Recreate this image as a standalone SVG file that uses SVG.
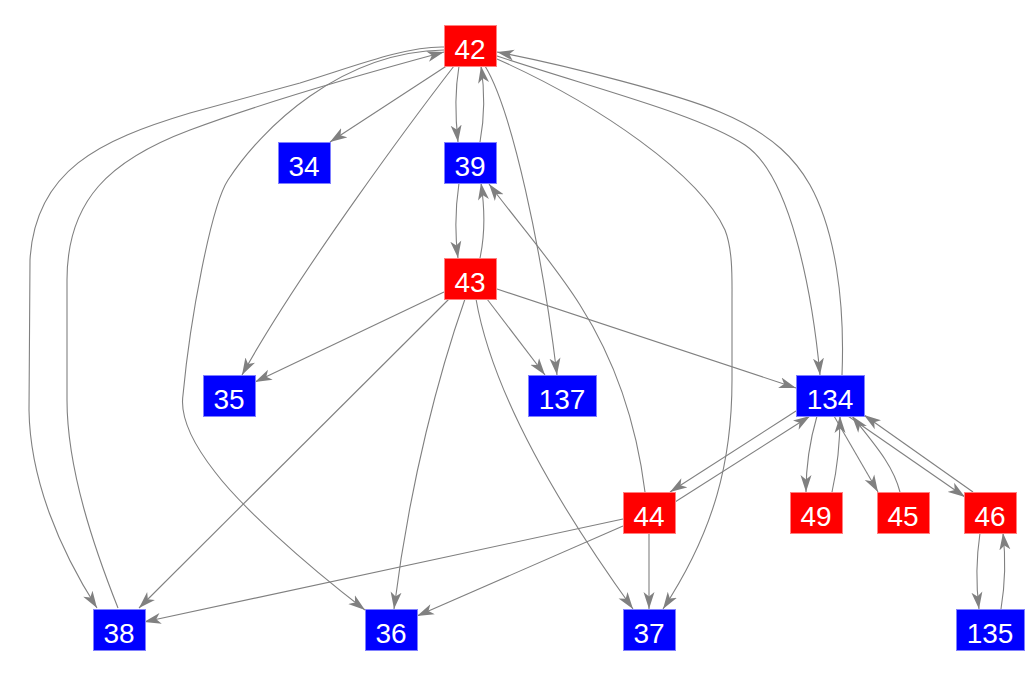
<svg xmlns="http://www.w3.org/2000/svg" width="1033" height="675" viewBox="0 0 1033 675">
<style>
.e{fill:none;stroke:#808080;stroke-width:1.1;marker-end:url(#ah)}
.r{fill:#ff0000;stroke:#ff8080;stroke-width:1}
.b{fill:#0000ff;stroke:#8080ff;stroke-width:1}
.t{fill:#ffffff;font-family:"Liberation Sans",Arial,sans-serif;font-size:28px;text-anchor:middle}
</style>
<defs>
<marker id="ah" viewBox="-17 -6 17 12" refX="0" refY="0" markerWidth="17" markerHeight="12" markerUnits="userSpaceOnUse" orient="auto">
<path d="M0,0 L-17,-5.5 L-12.5,0 L-17,5.5 Z" fill="#808080"/>
</marker>
</defs>
<rect width="1033" height="675" fill="#ffffff"/>
<g id="connectors">
<path class="e" d="M448,65 L330,142"/>
<path class="e" d="M454,66 C420,110 300,270 242,375"/>
<path class="e" d="M459,66 C455,90 455,115 458,142"/>
<path class="e" d="M480,142 C485,115 485,92 481,66"/>
<path class="e" d="M459,183 C455,210 455,235 458,258"/>
<path class="e" d="M480,258 C485,235 485,210 481,183"/>
<path class="e" d="M485,66 C512,110 542,250 557,375"/>
<path class="e" d="M444,50 C340,52 262,128 228,180 C211,206 190,320 183,395 C180,415 190,440 215,472 C240,505 300,560 365,610"/>
<path class="e" d="M444,47 C405,46 350,68 300,83 L190,113 C100,140 35,170 30,260 L29,410 C30,480 60,550 97,608"/>
<path class="e" d="M118,608 C95,550 67,470 67,400 L67,280 C67,200 110,160 190,130 C270,100 370,72 444,52"/>
<path class="e" d="M497,56 C600,90 700,115 745,145 C790,175 812,290 820,375"/>
<path class="e" d="M842,375 C845,300 835,230 810,185 C797,162 775,135 720,112 C680,95 570,66 497,52"/>
<path class="e" d="M497,59 C600,105 700,175 725,230 C733,250 732,280 732,300 L732,380 C732,460 715,530 663,609"/>
<path class="e" d="M444,292 L255,382"/>
<path class="e" d="M449,299 L139,608"/>
<path class="e" d="M465,299 C440,370 410,480 394,609"/>
<path class="e" d="M476,299 C490,380 540,480 633,609"/>
<path class="e" d="M487,299 L545,375"/>
<path class="e" d="M497,289 L796,388"/>
<path class="e" d="M645,492 C636,420 615,360 580,305 C555,265 520,225 489,184"/>
<path class="e" d="M796,411 L670,492"/>
<path class="e" d="M675,502 L810,416"/>
<path class="e" d="M623,519 L144,622"/>
<path class="e" d="M623,526 L417,616"/>
<path class="e" d="M649,533 L649,609"/>
<path class="e" d="M817,416 C810,440 806,465 806,492"/>
<path class="e" d="M832,492 C838,465 840,440 840,416"/>
<path class="e" d="M834,416 L878,492"/>
<path class="e" d="M900,492 C893,465 875,445 852,416"/>
<path class="e" d="M848,416 L965,497"/>
<path class="e" d="M973,492 L864,415"/>
<path class="e" d="M980,533 C976,560 976,585 979,609"/>
<path class="e" d="M1001,609 C1005,585 1006,560 1003,533"/>
</g>
<g id="n42"><rect class="r" x="444.5" y="25.5" width="52" height="41"/><text class="t" x="470" y="58.5">42</text></g>
<g id="n39"><rect class="b" x="444.5" y="142.5" width="52" height="41"/><text class="t" x="470" y="175.5">39</text></g>
<g id="n43"><rect class="r" x="444.5" y="258.5" width="52" height="41"/><text class="t" x="470" y="291.5">43</text></g>
<g id="n34"><rect class="b" x="278.5" y="142.5" width="52" height="41"/><text class="t" x="304" y="175.5">34</text></g>
<g id="n35"><rect class="b" x="203.5" y="375.5" width="52" height="41"/><text class="t" x="229" y="408.5">35</text></g>
<g id="n137"><rect class="b" x="528.5" y="375.5" width="68" height="41"/><text class="t" x="562" y="408.5">137</text></g>
<g id="n134"><rect class="b" x="796.5" y="375.5" width="68" height="41"/><text class="t" x="830" y="408.5">134</text></g>
<g id="n44"><rect class="r" x="623.5" y="492.5" width="52" height="41"/><text class="t" x="649" y="525.5">44</text></g>
<g id="n49"><rect class="r" x="790.5" y="492.5" width="52" height="41"/><text class="t" x="816" y="525.5">49</text></g>
<g id="n45"><rect class="r" x="877.5" y="492.5" width="52" height="41"/><text class="t" x="903" y="525.5">45</text></g>
<g id="n46"><rect class="r" x="964.5" y="492.5" width="52" height="41"/><text class="t" x="990" y="525.5">46</text></g>
<g id="n38"><rect class="b" x="93.5" y="609.5" width="52" height="41"/><text class="t" x="119" y="642.5">38</text></g>
<g id="n36"><rect class="b" x="365.5" y="609.5" width="52" height="41"/><text class="t" x="391" y="642.5">36</text></g>
<g id="n37"><rect class="b" x="623.5" y="609.5" width="52" height="41"/><text class="t" x="649" y="642.5">37</text></g>
<g id="n135"><rect class="b" x="956.5" y="609.5" width="68" height="41"/><text class="t" x="990" y="642.5">135</text></g>
</svg>
